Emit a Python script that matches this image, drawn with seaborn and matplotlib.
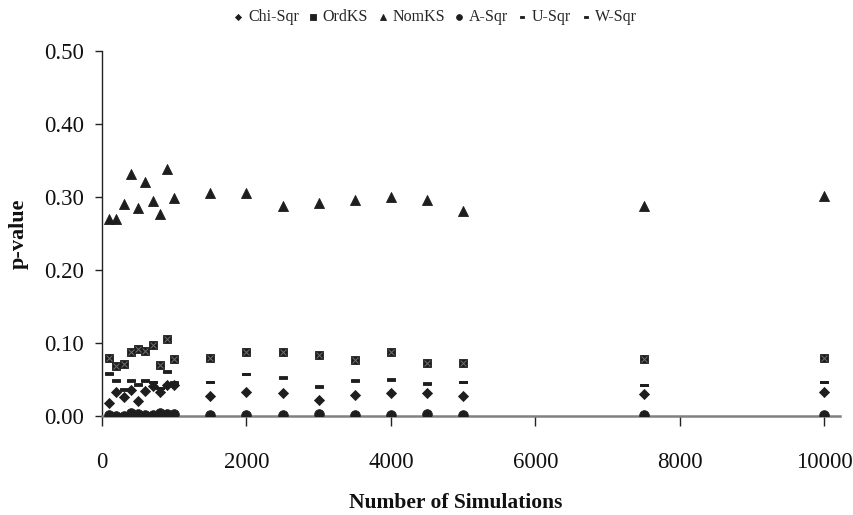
import numpy as np
import pandas as pd
import matplotlib
matplotlib.use("Agg")
import matplotlib.pyplot as plt
from matplotlib.path import Path
import seaborn as sns

# Number of simulations on the x axis
n_sims = [100, 200, 300, 400, 500, 600, 700, 800, 900, 1000,
          1500, 2000, 2500, 3000, 3500, 4000, 4500, 5000, 7500, 10000]

# p-values of each goodness-of-fit statistic
chi_sqr = [0.018, 0.033, 0.026, 0.035, 0.020, 0.034, 0.041, 0.033, 0.043, 0.042,
           0.028, 0.033, 0.031, 0.022, 0.029, 0.032, 0.032, 0.028, 0.030, 0.033]
ord_ks = [0.079, 0.069, 0.071, 0.087, 0.092, 0.089, 0.097, 0.070, 0.105, 0.078,
          0.080, 0.087, 0.087, 0.084, 0.077, 0.088, 0.073, 0.073, 0.078, 0.080]
nom_ks = [0.270, 0.270, 0.291, 0.331, 0.285, 0.321, 0.295, 0.277, 0.339, 0.299,
          0.306, 0.306, 0.288, 0.292, 0.296, 0.300, 0.296, 0.281, 0.287, 0.301]
a_sqr = [0.001, 0.000, 0.000, 0.004, 0.003, 0.001, 0.002, 0.004, 0.003, 0.003,
         0.002, 0.002, 0.001, 0.003, 0.001, 0.001, 0.003, 0.001, 0.001, 0.001]
u_sqr = [0.058, 0.048, 0.036, 0.048, 0.043, 0.048, 0.046, 0.038, 0.060, 0.045,
         0.046, 0.057, 0.052, 0.040, 0.048, 0.050, 0.044, 0.046, 0.042, 0.046]
w_sqr = [0.059, 0.049, 0.037, 0.049, 0.044, 0.049, 0.047, 0.039, 0.061, 0.046,
         0.047, 0.058, 0.053, 0.041, 0.049, 0.051, 0.045, 0.047, 0.043, 0.047]

series_names = ["Chi-Sqr", "OrdKS", "NomKS", "A-Sqr", "U-Sqr", "W-Sqr"]
series_values = [chi_sqr, ord_ks, nom_ks, a_sqr, u_sqr, w_sqr]

df = pd.DataFrame({
    "sims": np.tile(n_sims, len(series_names)),
    "pvalue": np.concatenate(series_values),
    "stat": np.repeat(series_names, len(n_sims)),
})

sns.set_theme(style="white")
plt.rcParams["font.family"] = ["Liberation Serif", "DejaVu Serif"]


def dash_path(w, h):
    return Path([(-w, -h), (w, -h), (w, h), (-w, h), (-w, -h)],
                [Path.MOVETO, Path.LINETO, Path.LINETO, Path.LINETO, Path.CLOSEPOLY])


styles = {
    "Chi-Sqr": dict(marker="D", s=26),
    "OrdKS": dict(marker="s", s=40),
    "NomKS": dict(marker="^", s=52),
    "A-Sqr": dict(marker="o", s=48),
    "U-Sqr": dict(marker=dash_path(1.0, 0.38), s=26),
    "W-Sqr": dict(marker=dash_path(1.0, 0.32), s=34),
}
ink = "#1e1e1e"

fig = plt.figure(figsize=(8.54, 5.15), dpi=100)
ax = fig.add_axes([102 / 854, 1 - 416 / 515, 738 / 854, 365 / 515])

for name in series_names:
    sub = df[df["stat"] == name]
    sns.scatterplot(data=sub, x="sims", y="pvalue", ax=ax, color=ink,
                    edgecolor=ink, linewidth=0.6, label=name, zorder=3,
                    **styles[name])

# faint cross on the square markers
sub = df[df["stat"] == "OrdKS"]
ax.scatter(sub["sims"], sub["pvalue"], marker="x", s=18, color="#6e6e6e",
           linewidths=0.7, zorder=4)

ax.set_xlim(0, 10220)
ax.set_ylim(0, 0.5)
ax.set_xticks([0, 2000, 4000, 6000, 8000, 10000])
ax.set_yticks([0.0, 0.1, 0.2, 0.3, 0.4, 0.5])
ax.set_yticklabels([f"{v:.2f}" for v in [0.0, 0.1, 0.2, 0.3, 0.4, 0.5]])

for side in ["top", "right"]:
    ax.spines[side].set_visible(False)
ax.spines["left"].set_color("#222222")
ax.spines["left"].set_linewidth(1.0)
ax.spines["bottom"].set_color("#808080")
ax.spines["bottom"].set_linewidth(1.8)

ax.tick_params(axis="x", direction="out", length=7, width=1.0, color="#222222",
               pad=19, labelsize=16.5, labelcolor="#111111", bottom=True)
ax.tick_params(axis="y", direction="out", length=5, width=1.0, color="#222222",
               pad=8, labelsize=16.5, labelcolor="#111111", left=True)

ax.set_xlabel("Number of Simulations", fontsize=15.5, fontweight="bold",
              color="#111111")
ax.xaxis.set_label_coords(0.4795, -0.212)
ax.set_ylabel("p-value", fontsize=16, fontweight="bold", color="#111111")
ax.yaxis.set_label_coords(-0.099, 0.5)

handles, labels = ax.get_legend_handles_labels()
ax.legend_.remove()
fig.legend(handles, labels, loc="center", bbox_to_anchor=(433 / 854, 1 - 17 / 515),
           ncol=6, frameon=False, fontsize=11.5, handletextpad=0.0,
           columnspacing=0.3, handlelength=1.2, markerscale=0.6,
           borderaxespad=0)

fig.savefig("out.png", dpi=100)
